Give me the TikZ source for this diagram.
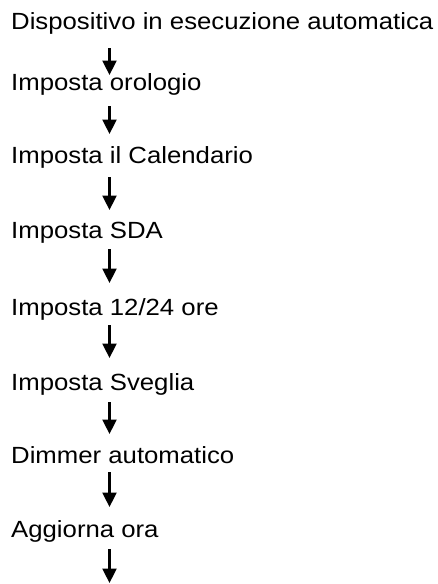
\documentclass[tikz,border=0pt]{standalone}
\usepackage{fontspec}
\setmainfont[FakeStretch=1.1]{Liberation Sans}
\usetikzlibrary{arrows.meta}
\begin{document}
\begin{tikzpicture}[x=1pt,y=1pt,
  lbl/.style={anchor=base west,inner sep=0pt,font=\fontsize{23.4}{28}\selectfont},
  arr/.style={line width=2.4pt,-{Triangle[length=14.5pt,width=14pt]}}]
\useasboundingbox (0,0) rectangle (437,-584);
\node[lbl] (n1) at (11,-29.5) {Dispositivo in esecuzione automatica};
\node[lbl] (n2) at (11,-90) {Imposta orologio};
\node[lbl] (n3) at (11,-163) {Imposta il Calendario};
\node[lbl] (n4) at (11,-238) {Imposta SDA};
\node[lbl] (n5) at (11,-315) {Imposta 12/24 ore};
\node[lbl] (n6) at (11,-390) {Imposta Sveglia};
\node[lbl] (n7) at (11,-463) {Dimmer automatico};
\node[lbl] (n8) at (11,-537) {Aggiorna ora};
\coordinate (a1s) at (109.5,-48);  \coordinate (a1e) at (109.5,-75);
\coordinate (a2s) at (109.5,-106); \coordinate (a2e) at (109.5,-134);
\coordinate (a3s) at (109.5,-177); \coordinate (a3e) at (109.5,-210);
\coordinate (a4s) at (109.5,-249); \coordinate (a4e) at (109.5,-283);
\coordinate (a5s) at (109.5,-325); \coordinate (a5e) at (109.5,-358);
\coordinate (a6s) at (109.5,-402); \coordinate (a6e) at (109.5,-434);
\coordinate (a7s) at (109.5,-472); \coordinate (a7e) at (109.5,-507);
\coordinate (a8s) at (109.5,-549); \coordinate (a8e) at (109.5,-583);
\foreach \i in {1,...,8} \draw[arr] (a\i s) -- (a\i e);
\end{tikzpicture}
\end{document}
